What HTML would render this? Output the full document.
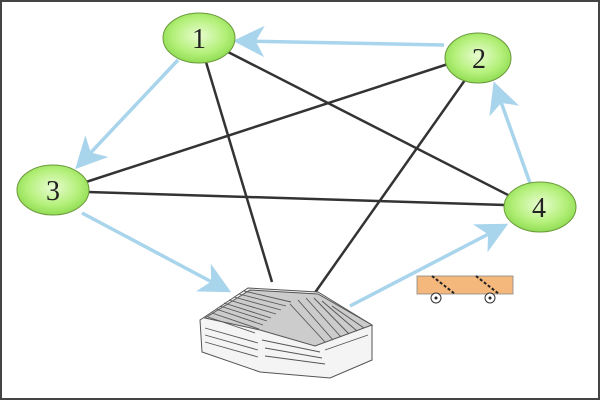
<!DOCTYPE html>
<html><head><style>html,body{margin:0;padding:0;background:#fff}svg{display:block}</style></head>
<body>
<svg width="600" height="400" viewBox="0 0 600 400" xmlns="http://www.w3.org/2000/svg">
<defs>
<radialGradient id="g" cx="50%" cy="45%" r="60%">
<stop offset="0" stop-color="#e8fcd0"/><stop offset="0.6" stop-color="#b4f07a"/><stop offset="1" stop-color="#88d84a"/>
</radialGradient>
<marker id="a" markerWidth="9" markerHeight="9" refX="7" refY="4.5" orient="auto" markerUnits="strokeWidth">
<path d="M0,0 L9,4.5 L0,9 L2.5,4.5 Z" fill="#a8d4ec"/></marker>
</defs>
<rect x="1" y="1" width="598" height="398" fill="#fff" stroke="#444" stroke-width="2"/>
<g stroke="#333" stroke-width="2.5" fill="none">
<line x1="206" y1="62" x2="272" y2="282"/>
<line x1="228" y1="52" x2="510" y2="196"/>
<line x1="86" y1="182" x2="448" y2="64"/>
<line x1="88" y1="192" x2="505" y2="205"/>
<line x1="465" y1="80" x2="314" y2="294"/>
</g>
<g stroke="#a8d4ec" stroke-width="3.5" fill="none">
<line x1="444" y1="45" x2="240" y2="41" marker-end="url(#a)"/>
<line x1="178" y1="60" x2="80" y2="164" marker-end="url(#a)"/>
<line x1="82" y1="213" x2="225" y2="289" marker-end="url(#a)"/>
<line x1="530" y1="183" x2="496" y2="88" marker-end="url(#a)"/>
<line x1="350" y1="306" x2="502" y2="227" marker-end="url(#a)"/>
</g>
<g stroke="#6a9a3a" stroke-width="1" fill="url(#g)">
<ellipse cx="199" cy="38" rx="36" ry="25"/>
<ellipse cx="478" cy="58" rx="33" ry="25"/>
<ellipse cx="53" cy="190" rx="36" ry="25"/>
<ellipse cx="540" cy="207" rx="36" ry="25"/>
</g>
<g font-family="Liberation Serif, serif" font-size="28" fill="#222" text-anchor="middle">
<text x="199" y="48">1</text><text x="479" y="68">2</text>
<text x="53" y="200">3</text><text x="539" y="217">4</text>
</g>
<g stroke="#555" stroke-width="1" fill="#f4f4f4">
<path d="M200,320 L248,288 L318,292 L372,325 L372,360 L330,378 L260,372 L202,352 Z"/>
<path d="M205,318 L250,290 L318,294 L372,325 L315,346 L260,330 Z" fill="#ccc"/>
</g>
<g stroke="#555" stroke-width="0.9">
<line x1="208" y1="317" x2="255" y2="333"/><line x1="212" y1="313" x2="259" y2="329"/>
<line x1="216" y1="309" x2="263" y2="325"/><line x1="220" y1="306" x2="267" y2="321"/>
<line x1="224" y1="303" x2="271" y2="318"/><line x1="229" y1="300" x2="276" y2="314"/>
<line x1="234" y1="297" x2="281" y2="310"/><line x1="239" y1="294" x2="286" y2="306"/>
<line x1="244" y1="291" x2="291" y2="302"/>
<line x1="290" y1="304" x2="325" y2="342"/><line x1="298" y1="300" x2="333" y2="340"/>
<line x1="306" y1="298" x2="341" y2="337"/><line x1="314" y1="298" x2="349" y2="334"/>
<line x1="322" y1="301" x2="357" y2="331"/><line x1="332" y1="306" x2="364" y2="328"/>
<line x1="205" y1="328" x2="258" y2="343"/><line x1="205" y1="335" x2="258" y2="350"/>
<line x1="205" y1="342" x2="258" y2="357"/>
<line x1="262" y1="340" x2="320" y2="352"/><line x1="265" y1="348" x2="322" y2="358"/>
<line x1="265" y1="356" x2="325" y2="364"/><line x1="325" y1="350" x2="368" y2="335"/>
</g>
<rect x="417" y="276" width="96" height="18" fill="#f5b87c" stroke="#888" stroke-width="0.8"/>
<path d="M432,276 L455,294 M476,276 L499,294" stroke="#222" stroke-width="2" stroke-dasharray="3,2"/>
<circle cx="436" cy="298" r="5" fill="#fff" stroke="#333"/><circle cx="436" cy="298" r="1.5" fill="#222"/>
<circle cx="490" cy="298" r="5" fill="#fff" stroke="#333"/><circle cx="490" cy="298" r="1.5" fill="#222"/>
</svg>
</body></html>
